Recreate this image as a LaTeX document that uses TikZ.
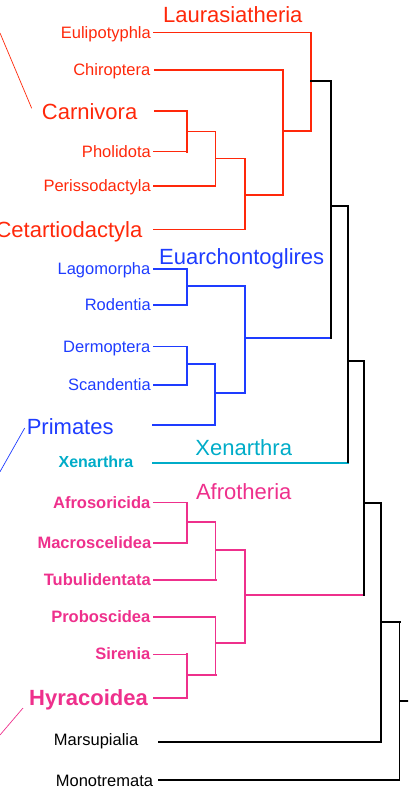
\documentclass[tikz,border=0pt]{standalone}
\usepackage{fontspec}
\setmainfont{Liberation Sans}
\definecolor{lred}{RGB}{255,40,10}
\definecolor{eblue}{RGB}{30,60,255}
\definecolor{xcyan}{RGB}{0,172,200}
\definecolor{apink}{RGB}{238,48,140}
\begin{document}
\begin{tikzpicture}[x=1pt,y=-1pt,line cap=rect,
  sm/.style={font=\fontsize{16.5}{18}\selectfont,inner sep=0pt,anchor=base east},
  smb/.style={font=\bfseries\fontsize{16.5}{18}\selectfont,inner sep=0pt,anchor=base east},
  bg/.style={font=\fontsize{22}{24}\selectfont,inner sep=0pt},
  tn/.style={line width=1.1pt},
  tk/.style={line width=2pt},
  rn/.style={tn,draw=lred}, rk/.style={tk,draw=lred},
  bn/.style={tn,draw=eblue}, bk/.style={tk,draw=eblue},
  pn/.style={tn,draw=apink}, pk/.style={tk,draw=apink},
  lead/.style={line width=0.7pt,line cap=butt}]
\clip (0,0) rectangle (408,793);
% ---------- tips ----------
\coordinate (tEul) at (154,32.5);
\coordinate (tChi) at (155,70);
\coordinate (tCar) at (155,111);
\coordinate (tPho) at (154,151.5);
\coordinate (tPer) at (154,186);
\coordinate (tCet) at (154,229.5);
\coordinate (tLag) at (154,269);
\coordinate (tRod) at (154,305);
\coordinate (tDer) at (154,346.7);
\coordinate (tSca) at (154,385);
\coordinate (tPri) at (153,425);
\coordinate (tXen) at (153,462.7);
\coordinate (tAfr) at (154,502.7);
\coordinate (tMac) at (154,543);
\coordinate (tTub) at (154,580);
\coordinate (tPro) at (154,617);
\coordinate (tSir) at (154,654.3);
\coordinate (tHyr) at (154,698);
\coordinate (tMar) at (159,742);
\coordinate (tMon) at (159,780);
% ---------- internal nodes ----------
\coordinate (rA) at (187,131.5);
\coordinate (rB) at (215.5,158.5);
\coordinate (rC) at (245,195);
\coordinate (rD) at (283,131);
\coordinate (rE) at (311,81);
\coordinate (bA) at (187,286);
\coordinate (bB) at (187,364);
\coordinate (bC) at (215,393);
\coordinate (bD) at (245,338);
\coordinate (pA) at (187,522);
\coordinate (pB) at (215.5,550);
\coordinate (pC) at (187,675);
\coordinate (pD) at (215.5,643);
\coordinate (pE) at (245,595);
\coordinate (kA) at (331,206);
\coordinate (kB) at (348,361);
\coordinate (kC) at (364,503);
\coordinate (kD) at (381,622);
\coordinate (kE) at (399.5,701);
\coordinate (root) at (410,701);
% ---------- labels ----------
\begin{scope}[text=lred]
\node[sm] (lEul) at (151,38.5) {Eulipotyphla};
\node[sm] (lChi) at (150.5,75.5) {Chiroptera};
\node[bg,anchor=base east] (lCar) at (137.5,119) {Carnivora};
\node[sm] (lPho) at (151,157) {Pholidota};
\node[sm] (lPer) at (151,191.5) {Perissodactyla};
\node[bg,anchor=base east] (lCet) at (142.5,237) {Cetartiodactyla};
\node[bg,anchor=base] (gLau) at (232.8,22.7) {Laurasiatheria};
\end{scope}
\begin{scope}[text=eblue]
\node[sm] (lLag) at (150.5,274.5) {Lagomorpha};
\node[sm] (lRod) at (151,310.5) {Rodentia};
\node[sm] (lDer) at (150.5,352.2) {Dermoptera};
\node[sm] (lSca) at (151,390.5) {Scandentia};
\node[bg,anchor=base west] (lPri) at (26.6,434) {Primates};
\node[bg,anchor=base] (gEua) at (241.7,264) {Euarchontoglires};
\end{scope}
\begin{scope}[text=xcyan]
\node[smb,font=\bfseries\fontsize{16}{18}\selectfont] (lXen) at (133.5,467.5) {Xenarthra};
\node[bg,anchor=base] (gXen) at (243.7,455.7) {Xenarthra};
\end{scope}
\begin{scope}[text=apink]
\node[smb] (lAfr) at (150.5,508.2) {Afrosoricida};
\node[smb] (lMac) at (151.5,548.5) {Macroscelidea};
\node[smb] (lTub) at (151,585.5) {Tubulidentata};
\node[smb] (lPro) at (150.5,622.5) {Proboscidea};
\node[smb] (lSir) at (150.5,659.8) {Sirenia};
\node[bg,font=\bfseries\fontsize{22}{24}\selectfont,anchor=base east] (lHyr) at (148,705) {Hyracoidea};
\node[bg,anchor=base] (gAfr) at (243.7,499) {Afrotheria};
\end{scope}
\node[sm] (lMar) at (138.5,745) {Marsupialia};
\node[sm] (lMon) at (153.3,786) {Monotremata};
% ---------- leader lines ----------
\coordinate (ldR1) at (0,33);   \coordinate (ldR2) at (31.7,108.3);
\coordinate (ldB1) at (0,471.7); \coordinate (ldB2) at (24.7,428);
\coordinate (ldP1) at (0,735);  \coordinate (ldP2) at (23,708);
\draw[lead,draw=lred] (ldR1) -- (ldR2);
\draw[lead,draw=eblue] (ldB1) -- (ldB2);
\draw[lead,draw=apink] (ldP1) -- (ldP2);
% ---------- Laurasiatheria ----------
\draw[rn] (tEul) -- (tEul -| rE);
\draw[rn] (tEul -| rE) -- (rE |- rD);
\draw[rn] (rD) -- (rE |- rD);
\draw[rn] (tChi) -- (tChi -| rD);
\draw[rk] (tChi -| rD) -- (rD |- rC);
\draw[rn] (rC) -- (rD |- rC);
\draw[rn] (tCar) -- (tCar -| rA);
\draw[rk] (tCar -| rA) -- (tPho -| rA);
\draw[rn] (tPho) -- (tPho -| rA);
\draw[rn] (rA) -- (rA -| rB);
\draw[rn] (rA -| rB) -- (tPer -| rB);
\draw[rn] (tPer) -- (tPer -| rB);
\draw[rn] (rB) -- (rB -| rC);
\draw[rn] (rB -| rC) -- (tCet -| rC);
\draw[rn] (tCet) -- (tCet -| rC);
% ---------- Euarchontoglires ----------
\draw[bk] (tLag) -| (tRod -| bA);
\draw[bn] (tRod) -- (tRod -| bA);
\draw[bk] (bA) -- (bA -| bD);
\draw[bn] (bA -| bD) -- (bC -| bD);
\draw[bn] (bC) -- (bC -| bD);
\draw[bn] (tDer) -- (tDer -| bB);
\draw[bn] (tDer -| bB) -- (tSca -| bB);
\draw[bn] (tSca) -- (tSca -| bB);
\draw[bk] (bB) -| (tPri -| bC);
\draw[bn] (tPri) -- (tPri -| bC);
\draw[bn] (bD) -- (bD -| kA);
% ---------- Xenarthra ----------
\draw[draw=xcyan,line width=1.6pt] (tXen) -- (tXen -| kB);
% ---------- Afrotheria ----------
\draw[pn] (tAfr) -- (tAfr -| pA);
\draw[pk] (tAfr -| pA) -- (tMac -| pA);
\draw[pk] (tMac) -- (tMac -| pA);
\draw[pn] (pA) -- (pA -| pB);
\draw[pn] (pA -| pB) -- (tTub -| pB);
\draw[pk] (tTub) -- (tTub -| pB);
\draw[pn] (pB) -- (pB -| pE);
\draw[pn] (pB -| pE) -- (pD -| pE);
\draw[pn] (pD) -- (pD -| pE);
\draw[pn] (tPro) -- (tPro -| pD);
\draw[pn] (tPro -| pD) -- (pC -| pD);
\draw[pk] (pC) -- (pC -| pD);
\draw[pn] (tSir) -- (tSir -| pC);
\draw[pk] (tSir -| pC) -- (tHyr -| pC);
\draw[pk] (tHyr) -- (tHyr -| pC);
\draw[pn] (pE) -- (pE -| kC);
% ---------- backbone ----------
\draw[tn] (rE) -| (kA |- bD);
\draw[tn] (kA) -| (kB |- tXen);
\draw[tk] (kB) -| (kC |- pE);
\draw[tn] (kC) -| (kD |- tMar);
\draw[tk] (tMar) -- (tMar -| kD);
\draw[tk] (kD) -- (kD -| kE);
\draw[tn] (kD -| kE) |- (tMon);
\draw[tn] (kE) -- (root);
\end{tikzpicture}
\end{document}
